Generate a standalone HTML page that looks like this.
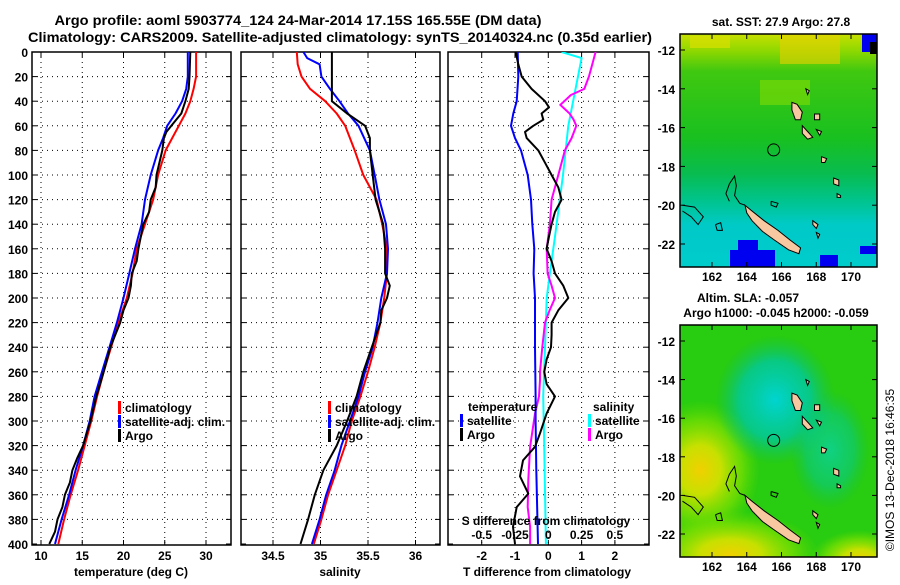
<!DOCTYPE html>
<html><head><meta charset="utf-8"><style>
body{margin:0;background:#fff;}
svg text{font-family:"Liberation Sans",sans-serif;font-weight:bold;fill:#000;}
</style></head><body>
<svg id="fig" width="900" height="580" viewBox="0 0 900 580" xmlns="http://www.w3.org/2000/svg">
<defs>
<linearGradient id="sstg" x1="0" y1="0" x2="0" y2="1">
<stop offset="0" stop-color="#c8e000"/><stop offset="0.07" stop-color="#90d800"/><stop offset="0.16" stop-color="#40c810"/>
<stop offset="0.45" stop-color="#18c020"/><stop offset="0.6" stop-color="#08bc50"/><stop offset="0.72" stop-color="#00c490"/>
<stop offset="0.82" stop-color="#00cac8"/><stop offset="1" stop-color="#00cccc"/></linearGradient>
<radialGradient id="cyanblob" cx="0.5" cy="0.5" r="0.5"><stop offset="0" stop-color="#00d4d0"/><stop offset="0.6" stop-color="#00c8a0" stop-opacity="0.8"/><stop offset="1" stop-color="#10c060" stop-opacity="0"/></radialGradient>
<radialGradient id="yelblob" cx="0.5" cy="0.5" r="0.5"><stop offset="0" stop-color="#f0d000"/><stop offset="0.35" stop-color="#c8e000"/><stop offset="0.7" stop-color="#80e000" stop-opacity="0.7"/><stop offset="1" stop-color="#60d800" stop-opacity="0"/></radialGradient>
<clipPath id="m1c"><rect x="680" y="34" width="197" height="233"/></clipPath>
<clipPath id="m2c"><rect x="680" y="325" width="197" height="232"/></clipPath>
<clipPath id="p1c"><rect x="32" y="52" width="199" height="493"/></clipPath>
<clipPath id="p2c"><rect x="241" y="52" width="199" height="493"/></clipPath>
<clipPath id="p3c"><rect x="448" y="52" width="201" height="493"/></clipPath>
</defs>
<text x="298" y="25" font-size="14" text-anchor="middle" textLength="487" lengthAdjust="spacingAndGlyphs">Argo profile: aoml 5903774_124 24-Mar-2014 17.15S 165.55E (DM data)</text>
<text x="340" y="42" font-size="14" text-anchor="middle" textLength="624" lengthAdjust="spacingAndGlyphs">Climatology: CARS2009. Satellite-adjusted climatology: synTS_20140324.nc (0.35d earlier)</text>
<g id="plots"></g>
<g id="maps"></g>
<text font-size="12" transform="translate(894,470) rotate(-90)" text-anchor="middle" style="font-weight:normal">©IMOS 13-Dec-2018 16:46:35</text>
</svg>
<script>
// ---- Temperature panel data ----
const tClimDepth=[0,20,30,40,50,60,80,100,120,140,160,180,200,220,240,260,280,300,320,340,360,380,400];
const tClim=[28.8,28.8,28.5,28.1,27.5,26.7,25.1,24.2,23.6,22.6,21.6,21.1,20.4,19.4,18.5,17.6,16.8,16.1,15.3,14.5,13.6,12.8,12.1];
const tSatDepth=[0,20,30,40,50,60,70,80,100,120,140,160,180,200,220,240,260,280,300,320,340,360,380,400];
const tSat=[27.8,27.8,27.6,27.1,26.3,25.3,24.8,24.2,23.3,22.6,22.2,21.4,20.7,20.0,19.2,18.3,17.4,16.5,15.9,15.1,14.2,13.4,12.5,11.7];
const tArgoDepth=[0,20,30,40,50,60,65,70,80,100,110,120,130,140,160,170,180,190,200,210,220,240,260,280,300,320,330,340,350,360,370,380,390,400];
const tArgo=[28.1,28.0,27.9,27.5,27.0,25.8,25.2,24.9,24.7,24.0,23.9,23.3,23.1,22.4,21.8,21.6,21.0,20.9,20.6,20.0,19.6,18.4,17.6,16.7,16.0,15.1,14.4,13.8,13.5,12.9,12.6,12.0,11.7,11.0];
// ---- Salinity panel data ----
const sClimDepth=[0,10,20,30,40,50,60,80,100,120,140,160,180,200,220,240,260,280,300,320,340,360,380,400];
const sClim=[34.75,34.76,34.80,34.89,35.05,35.17,35.26,35.36,35.45,35.59,35.65,35.70,35.70,35.67,35.63,35.57,35.50,35.42,35.33,35.26,35.17,35.08,35.01,34.93];
const sSatDepth=[0,5,10,20,30,40,50,60,80,100,120,140,160,180,200,220,240,260,280,300,320,340,360,380,400];
const sSat=[34.82,34.86,34.99,35.01,35.10,35.20,35.29,35.40,35.52,35.57,35.62,35.69,35.71,35.70,35.64,35.60,35.55,35.47,35.40,35.31,35.22,35.15,35.06,34.99,34.91];
const sArgoDepth=[0,30,35,40,50,60,70,80,100,120,140,160,180,190,200,210,220,240,260,280,300,320,340,360,380,400];
const sArgo=[35.12,35.12,35.12,35.12,35.28,35.47,35.52,35.52,35.55,35.58,35.66,35.68,35.68,35.73,35.70,35.64,35.63,35.54,35.45,35.38,35.28,35.17,35.03,34.94,34.87,34.79];
// ---- Difference panel data ----
const dTSatDepth=[0,20,40,50,60,70,80,100,120,140,160,180,200,240,280,300,340,400];
const dTSat=[-0.92,-0.90,-0.95,-1.05,-1.12,-1.0,-0.82,-0.62,-0.52,-0.48,-0.42,-0.44,-0.40,-0.40,-0.38,-0.38,-0.36,-0.31];
const dTArgoDepth=[0,10,20,30,40,45,50,55,60,65,70,80,90,100,110,120,130,140,150,160,170,180,190,200,210,220,230,240,250,260,270,280,294,310,321,332,345,359,370,386,400];
const dTArgo=[-0.98,-0.90,-0.80,-0.5,-0.1,0.02,-0.2,-0.15,-0.45,-0.7,-0.65,-0.3,-0.1,0.1,0.3,0.4,0.2,0.1,0.02,-0.05,0.1,0.2,0.45,0.6,0.3,0.1,0.1,0.08,-0.05,-0.12,-0.05,0.2,-0.05,-0.25,-0.4,-0.76,-0.85,-0.6,-0.95,-1.06,-1.0];
const dSSatDepth=[0,5,60,100,150,180,200,240,280,310,400];
const dSSat=[0.1,0.25,0.15,0.11,0.05,0.012,-0.012,-0.025,-0.038,-0.032,-0.018];
const dSArgoDepth=[0,10,20,30,35,40,43,50,55,60,70,80,100,120,140,160,180,190,200,210,220,240,260,267,280,294,321,348,370,386,400];
const dSArgo=[0.355,0.33,0.305,0.27,0.17,0.12,0.09,0.16,0.19,0.21,0.175,0.125,0.075,0.025,0.012,-0.012,-0.005,0.025,0.05,0.01,-0.025,-0.045,-0.062,-0.062,-0.07,-0.1,-0.137,-0.15,-0.155,-0.137,-0.137];
// ---- axis tick labels ----
const depthTicks=[0,20,40,60,80,100,120,140,160,180,200,220,240,260,280,300,320,340,360,380,400];
const tTicks=[10,15,20,25,30];
const sTicks=[34.5,35,35.5,36];
const dTTicks=[-2,-1,0,1,2];
const dSTickLabels=["-0.5","-0.25","0","0.25","0.5"];
const dSTicks=[-0.5,-0.25,0,0.25,0.5];
const lonTicks=[162,164,166,168,170];
const latTicks=[-12,-14,-16,-18,-20,-22];

const NS="http://www.w3.org/2000/svg";
function mk(tag,attrs,parent){const e=document.createElementNS(NS,tag);for(const k in attrs)e.setAttribute(k,attrs[k]);parent.appendChild(e);return e;}
const plots=document.getElementById('plots');
const yD=d=>52+d*1.23;
const xT=v=>41+(v-10)*8.25;
const xS=v=>273+(v-34.5)*95;
const xD=v=>548.3+v*33.3;
const xDS=v=>548.3+v*4*33.3;
const TOP=52,BOT=545;

function panel(name,x0,x1,xs,xticks,leftLabels){
  const g=mk('g',{},plots);
  
  
  depthTicks.forEach(d=>{
    const y=yD(d);
    if(d>0&&d<400){const l=mk('line',{x1:x0,x2:x1,y1:y,y2:y,stroke:'#000','stroke-width':1,'stroke-dasharray':'1,4'},g);
      
      }
    mk('line',{x1:x0,x2:x0+5,y1:y,y2:y,stroke:'#000'},g);
    mk('line',{x1:x1-5,x2:x1,y1:y,y2:y,stroke:'#000'},g);
    if(leftLabels){const t=mk('text',{x:28,y:y+5,'font-size':12,'text-anchor':'end'},g);t.textContent=d;
      
      }
  });
  xticks.forEach(v=>{
    const x=xs(v);
    const l=mk('line',{x1:x,x2:x,y1:TOP,y2:BOT,stroke:'#000','stroke-dasharray':'1,4'},g);
    
    
    mk('line',{x1:x,x2:x,y1:BOT-5,y2:BOT,stroke:'#000'},g);
    mk('line',{x1:x,x2:x,y1:TOP,y2:TOP+5,stroke:'#000'},g);
    const t=mk('text',{x:x,y:560,'font-size':12,'text-anchor':'middle'},g);t.textContent=v;
    
    
  });
  const f=mk('rect',{x:x0,y:TOP,width:x1-x0,height:BOT-TOP,fill:'none',stroke:'#000','stroke-width':1.5},g);
  
  
  return g;
}
function series(g,clip,depths,vals,xs,color,name,w){
  const pts=depths.map((d,i)=>xs(vals[i]).toFixed(1)+','+yD(d).toFixed(1)).join(' ');
  const p=mk('polyline',{points:pts,fill:'none',stroke:color,'stroke-width':w||2,'clip-path':'url(#'+clip+')','stroke-linejoin':'round'},g);
  
  
}
function legend(g,x,y,color,label,name){
  const r=mk('rect',{x:x,y:y-11,width:3,height:13,fill:color},g);
  
  
  const t=mk('text',{x:x+7,y:y,'font-size':12},g);t.textContent=label;
  
  
}
function label(txt,x,y,name){const t=mk('text',{x:x,y:y,'font-size':12,'text-anchor':'middle'},plots);t.textContent=txt;
  
  }

// Panel 1
const g1=panel('temperature-panel',32,231,xT,tTicks,true);
series(g1,'p1c',tClimDepth,tClim,xT,'#f00','temp-climatology-line');
series(g1,'p1c',tSatDepth,tSat,xT,'#00f','temp-satellite-line');
series(g1,'p1c',tArgoDepth,tArgo,xT,'#000','temp-argo-line');
legend(g1,118,412,'#f00','climatology','legend-climatology');
legend(g1,118,426,'#00f','satellite-adj. clim.','legend-satellite');
legend(g1,118,440,'#000','Argo','legend-argo');
label('temperature (deg C)',131,576,'temperature-axis-title');
// Panel 2
const g2=panel('salinity-panel',241,440,xS,sTicks,false);
series(g2,'p2c',sClimDepth,sClim,xS,'#f00','sal-climatology-line');
series(g2,'p2c',sSatDepth,sSat,xS,'#00f','sal-satellite-line');
series(g2,'p2c',sArgoDepth,sArgo,xS,'#000','sal-argo-line');
legend(g2,328,412,'#f00','climatology','legend-climatology-2');
legend(g2,328,426,'#00f','satellite-adj. clim.','legend-satellite-2');
legend(g2,328,440,'#000','Argo','legend-argo-2');
label('salinity',340,576,'salinity-axis-title');
// Panel 3
const g3=panel('difference-panel',448,649,xD,dTTicks,false);
series(g3,'p3c',dSSatDepth,dSSat,xDS,'#0ff','sdiff-satellite-line');
series(g3,'p3c',dSArgoDepth,dSArgo,xDS,'#f0f','sdiff-argo-line');
series(g3,'p3c',dTSatDepth,dTSat,xD,'#00f','tdiff-satellite-line');
series(g3,'p3c',dTArgoDepth,dTArgo,xD,'#000','tdiff-argo-line');
{const t=mk('text',{x:468,y:411,'font-size':12},g3);t.textContent='temperature';
 
 
 const s=mk('text',{x:593,y:411,'font-size':12},g3);s.textContent='salinity';
 
 }
legend(g3,460,425,'#00f','satellite','legend-t-satellite');
legend(g3,460,439,'#000','Argo','legend-t-argo');
legend(g3,588,425,'#0ff','satellite','legend-s-satellite');
legend(g3,588,439,'#f0f','Argo','legend-s-argo');
{const t=mk('text',{x:546,y:525,'font-size':12,'text-anchor':'middle'},g3);t.textContent='S difference from climatology';
 
 }
dSTicks.forEach((v,i)=>{const t=mk('text',{x:xDS(v),y:539,'font-size':12,'text-anchor':'middle'},g3);t.textContent=dSTickLabels[i];
 
 });
label('T difference from climatology',547,576,'t-difference-axis-title');

// ---- Maps ----
const maps=document.getElementById('maps');
const lonX=lon=>712+(lon-162)*17.375;
const NC=[[163.9,-20.0],[164.3,-20.3],[165.0,-20.8],[165.8,-21.3],[166.5,-21.8],[167.1,-22.2],[167.0,-22.5],[166.4,-22.3],[165.6,-21.8],[164.9,-21.35],[164.3,-20.8],[164.0,-20.4]];
const islands=[
 [[166.6,-14.7],[166.9,-14.8],[167.2,-15.2],[167.1,-15.6],[166.8,-15.6],[166.6,-15.1]],
 [[167.2,-15.9],[167.5,-16.2],[167.8,-16.5],[167.5,-16.6],[167.2,-16.3]],
 [[167.9,-15.3],[168.2,-15.3],[168.2,-15.6],[167.9,-15.6]],
 [[168.3,-17.5],[168.6,-17.6],[168.5,-17.8],[168.3,-17.8]],
 [[169.0,-18.6],[169.3,-18.7],[169.3,-19.0],[169.0,-18.9]],
 [[169.2,-19.4],[169.4,-19.5],[169.4,-19.6],[169.2,-19.6]],
 [[167.4,-14.0],[167.6,-14.1],[167.5,-14.3]],
 [[168.0,-16.1],[168.3,-16.2],[168.2,-16.4]],
 [[167.8,-20.8],[168.1,-21.0],[168.0,-21.2],[167.8,-21.0]],
 [[168.0,-21.4],[168.2,-21.5],[168.1,-21.7]]];
const reefs=[
 [[163.0,-19.8],[162.8,-19.4],[163.0,-18.9],[163.3,-18.5],[163.4,-19.0],[163.3,-19.5],[163.6,-19.9],[163.9,-20.0]],
 [[160.3,-20.0],[161.0,-20.1],[161.5,-20.6],[161.2,-21.0],[160.8,-20.6],[160.3,-20.3]],
 [[162.2,-21.0],[162.5,-20.9],[162.6,-21.3],[162.3,-21.3],[162.2,-21.0]],
 [[165.4,-19.8],[165.8,-19.9],[165.7,-20.1],[165.4,-20.0],[165.4,-19.8]]];
function drawMap(y0,latY,fillFn,name,clip,t1){
  const g=mk('g',{},maps);
  
  
  const inner=mk('g',{'clip-path':'url(#'+clip+')'},g);
  fillFn(inner);
  const P=pts=>pts.map(p=>lonX(p[0]).toFixed(1)+','+latY(p[1]).toFixed(1)).join(' ');
  reefs.forEach(r=>mk('polyline',{points:P(r),fill:'none',stroke:'#000','stroke-width':1},inner));
  [NC].concat(islands).forEach(r=>mk('polygon',{points:P(r),fill:'#f8c8a0',stroke:'#000','stroke-width':1},inner));
  const c=mk('circle',{cx:lonX(165.55),cy:latY(-17.15),r:6,fill:'none',stroke:'#000','stroke-width':1},g);
  
  
  mk('rect',{x:680,y:y0,width:197,height:(clip==='m1c'?233:232),fill:'none',stroke:'#000','stroke-width':1.5},g);
  const yb=y0+(clip==='m1c'?233:232);
  lonTicks.forEach(v=>{const x=lonX(v);mk('line',{x1:x,x2:x,y1:yb-5,y2:yb,stroke:'#000'},g);mk('line',{x1:x,x2:x,y1:y0,y2:y0+5,stroke:'#000'},g);
    const t=mk('text',{x:x,y:yb+14,'font-size':12,'text-anchor':'middle'},g);t.textContent=v;
    
    });
  latTicks.forEach(v=>{const y=latY(v);mk('line',{x1:680,x2:685,y1:y,y2:y,stroke:'#000'},g);mk('line',{x1:872,x2:877,y1:y,y2:y,stroke:'#000'},g);
    const t=mk('text',{x:675,y:y+5,'font-size':12,'text-anchor':'end'},g);t.textContent=v;
    
    });
  t1.forEach(tt=>{const t=mk('text',{x:tt[1],y:tt[2],'font-size':12,'text-anchor':'middle'},g);t.textContent=tt[0];
    
    });
}
const lat1=v=>50+(-12-v)*19.4;
const lat2=v=>341+(-12-v)*19.3;
drawMap(34,lat1,g=>{
  mk('rect',{x:680,y:34,width:197,height:233,fill:'url(#sstg)'},g);
  mk('rect',{x:780,y:34,width:60,height:30,fill:'#e8d000',opacity:0.6},g);
  mk('rect',{x:690,y:36,width:40,height:12,fill:'#d8e000',opacity:0.7},g);
  mk('rect',{x:760,y:80,width:50,height:25,fill:'#90e000',opacity:0.5},g);
  mk('rect',{x:730,y:250,width:45,height:17,fill:'#0000f0'},g);
  mk('rect',{x:738,y:240,width:20,height:12,fill:'#0000f0'},g);
  mk('rect',{x:820,y:255,width:18,height:12,fill:'#0000f0'},g);
  mk('rect',{x:862,y:34,width:15,height:18,fill:'#0000f0'},g);
  mk('rect',{x:870,y:42,width:7,height:12,fill:'#000'},g);
  mk('rect',{x:860,y:246,width:17,height:8,fill:'#0000f0'},g);
},'sst-map','m1c',[["sat. SST: 27.9 Argo: 27.8",781,26,'sst-map-title']]);
drawMap(325,lat2,g=>{
  mk('rect',{x:680,y:325,width:197,height:232,fill:'#28cc10'},g);
  mk('ellipse',{cx:700,cy:470,rx:60,ry:70,fill:'url(#yelblob)'},g);
  mk('ellipse',{cx:730,cy:555,rx:90,ry:45,fill:'url(#yelblob)'},g);
  mk('ellipse',{cx:860,cy:560,rx:50,ry:30,fill:'url(#yelblob)'},g);
  mk('ellipse',{cx:775,cy:400,rx:60,ry:65,fill:'url(#cyanblob)'},g);
  mk('ellipse',{cx:830,cy:450,rx:40,ry:60,fill:'url(#cyanblob)',opacity:0.6},g);
},'sla-map','m2c',[["Altim. SLA: -0.057",748,302,'sla-map-title'],["Argo h1000: -0.045 h2000: -0.059",776,317,'sla-map-subtitle']]);
</script>
</body></html>
